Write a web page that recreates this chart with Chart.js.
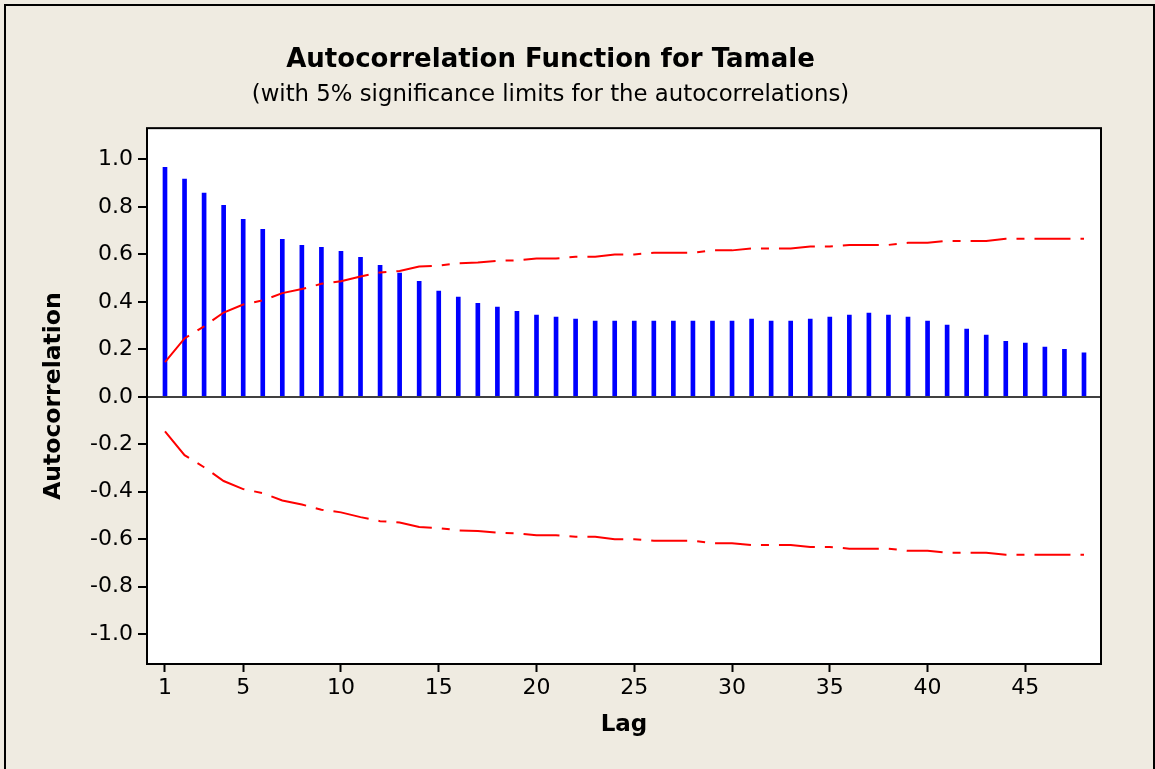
<!DOCTYPE html>
<html>
<head>
<meta charset="utf-8">
<title>Autocorrelation Function for Tamale</title>
<script src="https://cdn.jsdelivr.net/npm/chart.js@4"></script>
<style>
  body { margin: 0; background: #efebe1; }
  #frame { position: absolute; left: 4px; top: 4px; width: 1147px; height: 800px;
           border: 2px solid #000; border-bottom: none; }
  #acfChart { position: absolute; left: 0; top: 0; }
</style>
</head>
<body>
<div id="frame"></div>
<canvas id="acfChart" width="1155" height="769"></canvas>
<script>
const lags = [1, 2, 3, 4, 5, 6, 7, 8, 9, 10, 11, 12, 13, 14, 15, 16,
  17, 18, 19, 20, 21, 22, 23, 24, 25, 26, 27, 28, 29, 30, 31, 32,
  33, 34, 35, 36, 37, 38, 39, 40, 41, 42, 43, 44, 45, 46, 47, 48];

const acf = [0.967, 0.917, 0.858, 0.807, 0.748, 0.706, 0.664, 0.638, 0.630, 0.613, 0.588, 0.554,
  0.521, 0.487, 0.445, 0.420, 0.394, 0.378, 0.360, 0.344, 0.336, 0.327, 0.319, 0.319,
  0.319, 0.319, 0.319, 0.319, 0.319, 0.319, 0.327, 0.319, 0.319, 0.327, 0.336, 0.344,
  0.353, 0.344, 0.336, 0.319, 0.302, 0.285, 0.260, 0.234, 0.226, 0.210, 0.200, 0.185];

const upperLimit = [0.146, 0.246, 0.297, 0.355, 0.389, 0.406, 0.437, 0.454, 0.476, 0.487, 0.507, 0.524,
  0.530, 0.549, 0.553, 0.563, 0.566, 0.573, 0.575, 0.583, 0.583, 0.590, 0.590, 0.600,
  0.600, 0.607, 0.607, 0.607, 0.617, 0.617, 0.625, 0.625, 0.625, 0.633, 0.633, 0.640,
  0.640, 0.640, 0.649, 0.649, 0.657, 0.657, 0.657, 0.666, 0.666, 0.666, 0.666, 0.666];

const lowerLimit = [-0.146, -0.246, -0.297, -0.355, -0.389, -0.406, -0.437, -0.454, -0.476, -0.487, -0.507, -0.524,
  -0.530, -0.549, -0.553, -0.563, -0.566, -0.573, -0.575, -0.583, -0.583, -0.590, -0.590, -0.600,
  -0.600, -0.607, -0.607, -0.607, -0.617, -0.617, -0.625, -0.625, -0.625, -0.633, -0.633, -0.640,
  -0.640, -0.640, -0.649, -0.649, -0.657, -0.657, -0.657, -0.666, -0.666, -0.666, -0.666, -0.666];

const xTicks = [1, 5, 10, 15, 20, 25, 30, 35, 40, 45];
const yTicks = [-1.0, -0.8, -0.6, -0.4, -0.2, 0.0, 0.2, 0.4, 0.6, 0.8, 1.0];

const FONT = "'DejaVu Sans', Tahoma, Verdana, sans-serif";
const limitDash = [36, 10, 8, 10];

// white plot area + black box round it
const plotBox = {
  id: "plotBox",
  beforeDraw(chart) {
    const a = chart.chartArea, c = chart.ctx;
    c.save();
    c.fillStyle = "#fff";
    c.fillRect(a.left, a.top, a.right - a.left, a.bottom - a.top);
    c.restore();
  },
  afterDraw(chart) {
    const a = chart.chartArea, c = chart.ctx;
    c.save();
    c.strokeStyle = "#000";
    c.lineWidth = 2;
    c.strokeRect(a.left, a.top, a.right - a.left, a.bottom - a.top);
    c.restore();
  }
};

const pts = arr => arr.map((v, i) => ({ x: lags[i], y: v }));

new Chart(document.getElementById("acfChart"), {
  type: "bar",
  data: {
    datasets: [
      {
        type: "line",
        data: pts(upperLimit),
        borderColor: "#ff0000",
        borderWidth: 2,
        borderDash: limitDash,
        pointRadius: 0,
        tension: 0,
        order: 1
      },
      {
        type: "line",
        data: pts(lowerLimit),
        borderColor: "#ff0000",
        borderWidth: 2,
        borderDash: limitDash,
        pointRadius: 0,
        tension: 0,
        order: 1
      },
      {
        type: "bar",
        data: pts(acf),
        backgroundColor: "#0000ff",
        barThickness: 4,
        order: 2
      }
    ]
  },
  options: {
    responsive: false,
    animation: false,
    devicePixelRatio: 1,
    layout: { padding: { left: 0, right: 54, top: 0, bottom: 0 } },
    plugins: {
      legend: { display: false },
      tooltip: { enabled: false },
      title: {
        display: true,
        text: "Autocorrelation Function for Tamale",
        color: "#000",
        font: { family: FONT, size: 26, weight: "bold", lineHeight: 1.2 },
        padding: { top: 45, bottom: 5 }
      },
      subtitle: {
        display: true,
        text: "(with 5% significance limits for the autocorrelations)",
        color: "#000",
        font: { family: FONT, size: 22.8, lineHeight: 1.2 },
        padding: { top: 0, bottom: 19.6 }
      }
    },
    scales: {
      x: {
        type: "linear",
        min: 0.08,
        max: 48.87,
        offset: false,
        afterBuildTicks: s => { s.ticks = xTicks.map(v => ({ value: v })); },
        afterFit: s => { s.height = 105; },
        border: { display: false },
        grid: {
          offset: false,
          drawOnChartArea: false,
          drawTicks: true,
          tickLength: 8,
          tickColor: "#000",
          tickWidth: 2
        },
        ticks: {
          color: "#000",
          padding: 3,
          maxRotation: 0,
          autoSkip: false,
          font: { family: FONT, size: 22 }
        },
        title: {
          display: true,
          text: "Lag",
          color: "#000",
          font: { family: FONT, size: 23, weight: "bold", lineHeight: 1.2 },
          padding: { top: 0, bottom: 30 }
        }
      },
      y: {
        min: -1.126,
        max: 1.132,
        afterBuildTicks: s => { s.ticks = yTicks.map(v => ({ value: v })); },
        afterFit: s => { s.width = 147; },
        border: { display: false },
        grid: {
          color: c => (c.tick && Math.abs(c.tick.value) < 1e-9) ? "#404040" : "rgba(0,0,0,0)",
          lineWidth: 2,
          drawTicks: true,
          tickLength: 9,
          tickColor: "#000",
          tickWidth: 2
        },
        ticks: {
          color: "#000",
          padding: 5,
          autoSkip: false,
          font: { family: FONT, size: 22 },
          callback: v => v.toFixed(1)
        },
        title: {
          display: true,
          text: "Autocorrelation",
          color: "#000",
          font: { family: FONT, size: 23.5, weight: "bold", lineHeight: 1.2 },
          padding: { top: 40, bottom: 0 }
        }
      }
    }
  },
  plugins: [plotBox]
});
</script>
</body>
</html>
